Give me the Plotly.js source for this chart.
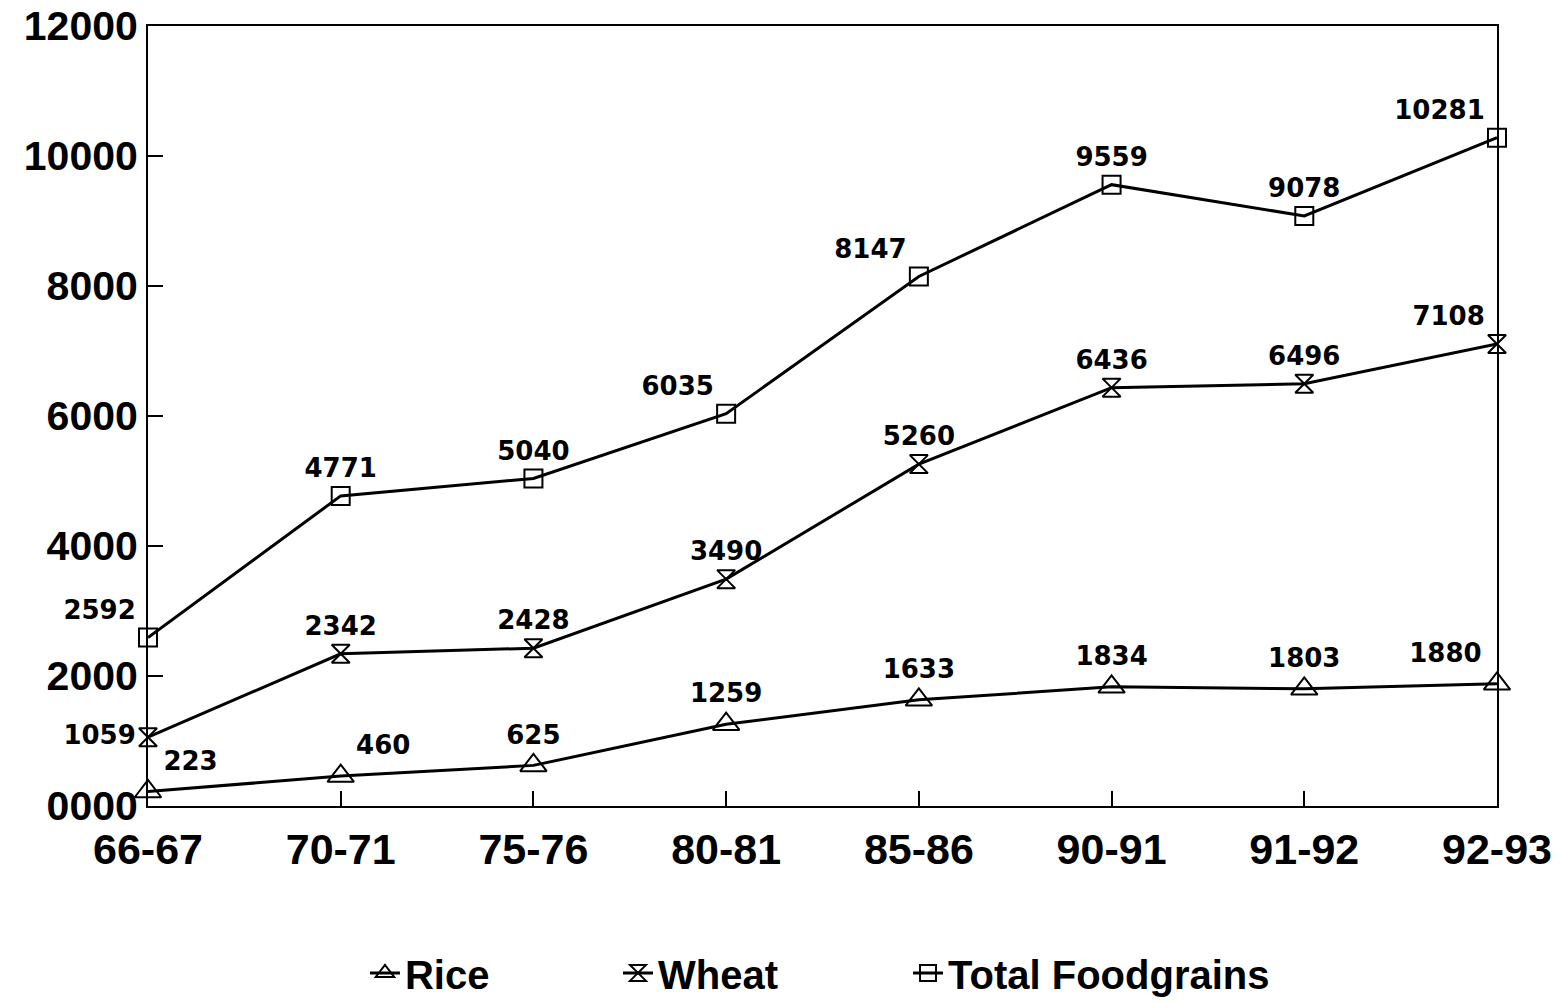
<!DOCTYPE html>
<html>
<head>
<meta charset="utf-8">
<script src="https://cdn.plot.ly/plotly-3.0.1.min.js"></script>
<style>html,body{margin:0;padding:0;background:#fff;}#chart{width:1561px;height:1003px;}</style>
</head>
<body>
<div id="chart"></div>
<script>
const years = ["66-67","70-71","75-76","80-81","85-86","90-91","91-92","92-93"];
const rice = [223, 460, 625, 1259, 1633, 1834, 1803, 1880];
const wheat = [1059, 2342, 2428, 3490, 5260, 6436, 6496, 7108];
const totalFoodgrains = [2592, 4771, 5040, 6035, 8147, 9559, 9078, 10281];
const yTickVals = [0, 2000, 4000, 6000, 8000, 10000, 12000];
const yTickText = ["0000","2000","4000","6000","8000","10000","12000"];

const labelFont = {family: "DejaVu Sans", size: 26, color: "#000", weight: "bold"};
const lineStyle = {color: "#000", width: 3};

function trace(name, vals, symbol, msize, pos, legendId) {
  return {
    type: "scatter", mode: "lines+markers+text", name: name, legend: legendId,
    x: years, y: vals,
    text: vals.map(String), textposition: pos, textfont: labelFont,
    line: lineStyle,
    marker: {symbol: symbol, size: msize, color: "#000", line: {color: "#000", width: 2}},
    cliponaxis: false
  };
}

const data = [
  trace("Rice", rice, "triangle-up-open", 23,
    ["top right","top right","top center","top center","top center","top center","top center","top left"], "legend"),
  trace("Wheat", wheat, "hourglass-open", 18,
    ["middle left","top center","top center","top center","top center","top center","top center","top left"], "legend2"),
  trace("Total Foodgrains", totalFoodgrains, "square-open", 18,
    ["top left","top center","top center","top left","top left","top center","top center","top left"], "legend3")
];

const legendFont = {family: "Liberation Sans", size: 40, color: "#000", weight: "bold"};
function legendAt(xFrac) {
  return {orientation: "h", x: xFrac, xanchor: "left", xref: "container",
    y: 0.03, yanchor: "middle", yref: "container", font: legendFont, itemwidth: 30};
}

const layout = {
  width: 1561, height: 1003,
  paper_bgcolor: "#fff", plot_bgcolor: "#fff",
  margin: {l: 148, r: 64, t: 26, b: 197, autoexpand: false},
  showlegend: true,
  legend: legendAt(0.2338),
  legend2: legendAt(0.3959),
  legend3: legendAt(0.5817),
  xaxis: {
    type: "category", range: [0, 7], showgrid: false, zeroline: false,
    showline: true, mirror: true, linecolor: "#000", linewidth: 2,
    ticks: "inside", ticklen: 15, tickwidth: 2, tickcolor: "#000",
    ticklabelstandoff: 4, ticklabeloverflow: "allow",
    tickfont: {family: "Liberation Sans", size: 43, color: "#000", weight: "bold"}
  },
  yaxis: {
    range: [0, 12000], showgrid: false, zeroline: false,
    showline: true, mirror: true, linecolor: "#000", linewidth: 2,
    ticks: "inside", ticklen: 15, tickwidth: 2, tickcolor: "#000",
    tickvals: yTickVals, ticktext: yTickText, ticklabeloverflow: "allow",
    tickfont: {family: "Liberation Sans", size: 41, color: "#000", weight: "bold"}
  }
};

Plotly.newPlot("chart", data, layout, {staticPlot: true});
</script>
</body>
</html>
